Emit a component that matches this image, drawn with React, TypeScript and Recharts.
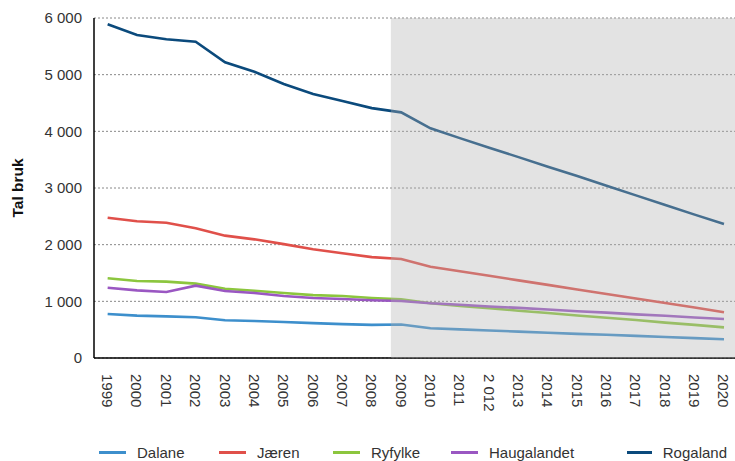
import {
  LineChart,
  Line,
  XAxis,
  YAxis,
  CartesianGrid,
  Legend,
  ReferenceArea,
} from 'recharts';

const years = [
  1999, 2000, 2001, 2002, 2003, 2004, 2005, 2006, 2007, 2008, 2009, 2010,
  2011, 2012, 2013, 2014, 2015, 2016, 2017, 2018, 2019, 2020,
];

// labels as printed (note the odd "2 012")
const yearLabels = [
  '1999', '2000', '2001', '2002', '2003', '2004', '2005', '2006', '2007',
  '2008', '2009', '2010', '2011', '2 012', '2013', '2014', '2015', '2016',
  '2017', '2018', '2019', '2020',
];

const dalane = [
  776, 747, 735, 718, 665, 653, 636, 615, 598, 585, 590, 524, 505, 485, 465,
  445, 425, 410, 390, 370, 350, 330,
];
const jaeren = [
  2476, 2412, 2388, 2288, 2159, 2094, 2010, 1920, 1850, 1780, 1747, 1611,
  1530, 1450, 1370, 1290, 1210, 1130, 1050, 970, 890, 806,
];
const ryfylke = [
  1406, 1359, 1347, 1312, 1223, 1188, 1147, 1110, 1094, 1059, 1035, 965, 920,
  880, 835, 795, 750, 710, 670, 625, 585, 541,
];
const haugalandet = [
  1241, 1194, 1165, 1276, 1182, 1147, 1094, 1060, 1040, 1020, 1006, 965, 940,
  910, 885, 855, 825, 800, 770, 745, 715, 688,
];
const rogaland = [
  5889, 5700, 5624, 5582, 5218, 5050, 4835, 4660, 4535, 4410, 4335, 4053,
  3880, 3710, 3545, 3375, 3210, 3040, 2870, 2700, 2530, 2365,
];

const yTicks = [0, 1000, 2000, 3000, 4000, 5000, 6000];

// projection starts part-way between 2008 and 2009
const forecastStart = 2008.65;

const series = [
  { key: 'dalane', name: 'Dalane', color: '#3d8fcc' },
  { key: 'jaeren', name: 'Jæren', color: '#e0504a' },
  { key: 'ryfylke', name: 'Ryfylke', color: '#8cc63e' },
  { key: 'haugalandet', name: 'Haugalandet', color: '#9a57c2' },
  { key: 'rogaland', name: 'Rogaland', color: '#0b4a7c' },
];

const data = years.map((year, i) => ({
  year,
  dalane: dalane[i],
  jaeren: jaeren[i],
  ryfylke: ryfylke[i],
  haugalandet: haugalandet[i],
  rogaland: rogaland[i],
}));

const font = '"Liberation Sans", Arial, sans-serif';

const fmt = (v: number) =>
  v >= 1000 ? `${Math.floor(v / 1000)} ${String(v % 1000).padStart(3, '0')}` : String(v);

const XTick = (props: any) => {
  const { x, y, payload } = props;
  const idx = years.indexOf(payload.value);
  return (
    <text
      transform={`translate(${x},${y + 8}) rotate(90)`}
      textAnchor="start"
      dominantBaseline="central"
      fontSize={15}
      fill="#333"
      fontFamily={font}
    >
      {yearLabels[idx]}
    </text>
  );
};

const legendWidths = [120, 114, 118, 176, 100];

const LegendContent = () => (
  <div style={{ display: 'flex', height: 30, paddingLeft: 99, fontFamily: font }}>
    {series.map((s, i) => (
      <div
        key={s.key}
        style={{ width: legendWidths[i], display: 'flex', alignItems: 'center', height: 42 }}
      >
        <span
          style={{ display: 'inline-block', width: 27, height: 3, background: s.color, marginRight: 11 }}
        />
        <span style={{ fontSize: 15, color: '#333' }}>{s.name}</span>
      </div>
    ))}
  </div>
);

export default function App() {
  return (
    <div style={{ position: 'absolute', left: 0, top: 0, background: '#fff' }}>
      <LineChart
        width={735}
        height={461}
        data={data}
        margin={{ top: 18, right: 0, left: 0, bottom: 0 }}
      >
        <CartesianGrid vertical={false} stroke="#888" strokeDasharray="2 2" />
        <XAxis
          dataKey="year"
          type="number"
          domain={[1998.535, 2020.375]}
          ticks={years}
          interval={0}
          tickLine={false}
          axisLine={{ stroke: '#000', strokeWidth: 1.5 }}
          tick={<XTick />}
          height={73}
        />
        <YAxis
          width={94}
          domain={[0, 6000]}
          ticks={yTicks}
          tickFormatter={fmt}
          tickLine={false}
          tickSize={0}
          tickMargin={12}
          axisLine={{ stroke: '#000', strokeWidth: 1.5 }}
          tick={{ fontSize: 15, fill: '#333', fontFamily: font }}
          label={{
            content: ({ viewBox }: any) => (
              <text
                transform={`translate(${viewBox.x + 17},${viewBox.y + viewBox.height / 2}) rotate(-90)`}
                textAnchor="middle"
                dominantBaseline="central"
                fontSize={15.5}
                fontWeight="bold"
                fill="#111"
                fontFamily={font}
              >
                Tal bruk
              </text>
            ),
          }}
        />
        {series.map((s) => (
          <Line
            key={s.key}
            dataKey={s.key}
            name={s.name}
            stroke={s.color}
            strokeWidth={2.6}
            dot={false}
            type="linear"
            isAnimationActive={false}
          />
        ))}
        <ReferenceArea
          x1={forecastStart}
          x2={2020.375}
          y1={0}
          y2={6000}
          fill="#b1b1b1"
          fillOpacity={0.36}
          stroke="none"
          ifOverflow="extendDomain"
          zIndex={2000}
        />
        <Legend verticalAlign="bottom" content={<LegendContent />} />
      </LineChart>
    </div>
  );
}
